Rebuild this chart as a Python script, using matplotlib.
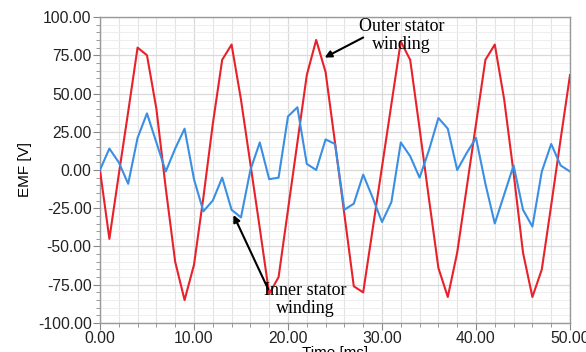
import numpy as np
import matplotlib.pyplot as plt
from matplotlib.ticker import MultipleLocator, FormatStrFormatter

time_ms = np.arange(0, 51)

outer_emf = [0, -45, -3, 38, 80, 75, 40, -12, -60, -85,
             -62, -18, 30, 72, 82, 46, 4, -38, -81, -70,
             -26, 18, 62, 85, 64, 18, -29, -76, -80, -39,
             2, 43, 84, 72, 27, -19, -64, -83, -54, -12,
             30, 72, 82, 46, -2, -54, -83, -65, -23, 20,
             62]

inner_emf = [0, 14, 5, -9, 21, 37, 18, -1, 14, 27,
             -6, -27, -20, -5, -26, -31, 0, 18, -6, -5,
             35, 41, 4, 0, 20, 17, -26, -22, -3, -18,
             -34, -21, 18, 9, -5, 13, 34, 27, 0, 11,
             21, -9, -35, -16, 3, -26, -37, -1, 17, 3,
             -1]

RED = '#e8212b'
BLUE = '#3a8fe3'
SERIF = 'Liberation Serif'
SANS = 'Liberation Sans'

fig = plt.figure(figsize=(5.86, 3.52), dpi=100)
ax = fig.add_axes([0.1706, 0.0824, 0.8021, 0.8693])

ax.plot(time_ms, outer_emf, color=RED, lw=1.5, zorder=3)
ax.plot(time_ms, inner_emf, color=BLUE, lw=1.5, zorder=3)

ax.set_xlim(0, 50)
ax.set_ylim(-100, 100)
ax.xaxis.set_major_locator(MultipleLocator(10))
ax.xaxis.set_minor_locator(MultipleLocator(2))
ax.yaxis.set_major_locator(MultipleLocator(25))
ax.yaxis.set_minor_locator(MultipleLocator(5))
ax.xaxis.set_major_formatter(FormatStrFormatter('%.2f'))
ax.yaxis.set_major_formatter(FormatStrFormatter('%.2f'))

ax.grid(which='major', color='#d9d9d9', lw=0.9, zorder=0)
ax.grid(which='minor', color='#eeeeee', lw=0.7, zorder=0)
ax.xaxis.grid(which='minor', color='#e4e4e4', lw=0.8)
ax.set_axisbelow(True)

for s in ax.spines.values():
    s.set_color('#999999')
    s.set_linewidth(1.0)
ax.tick_params(which='major', direction='out', length=5, color='#888888',
               labelsize=11.3, pad=1)
ax.tick_params(which='minor', direction='out', length=3, color='#888888')
for lab in ax.get_xticklabels() + ax.get_yticklabels():
    lab.set_fontfamily(SANS)
    lab.set_color('#222222')

ax.set_ylabel('EMF [V]', fontsize=11, family=SANS, labelpad=4)
ax.set_xlabel('Time [ms]', fontsize=11, family=SANS, labelpad=0)

arrow = dict(arrowstyle='-|>', color='black', lw=1.5,
             mutation_scale=10, shrinkA=0, shrinkB=0)
ax.annotate('', xy=(23.9, 73.5), xytext=(28.0, 86.6), arrowprops=arrow, zorder=4)
ax.text(32.1, 88, 'Outer stator\nwinding', ha='center', va='center',
        fontsize=13, family=SERIF, linespacing=1.05, zorder=5)
ax.annotate('', xy=(14.2, -29.4), xytext=(17.9, -78), arrowprops=arrow, zorder=4)
ax.text(21.8, -84.5, 'Inner stator\nwinding', ha='center', va='center',
        fontsize=13, family=SERIF, linespacing=1.05, zorder=5)

fig.savefig('out.png', dpi=100, facecolor='white')
